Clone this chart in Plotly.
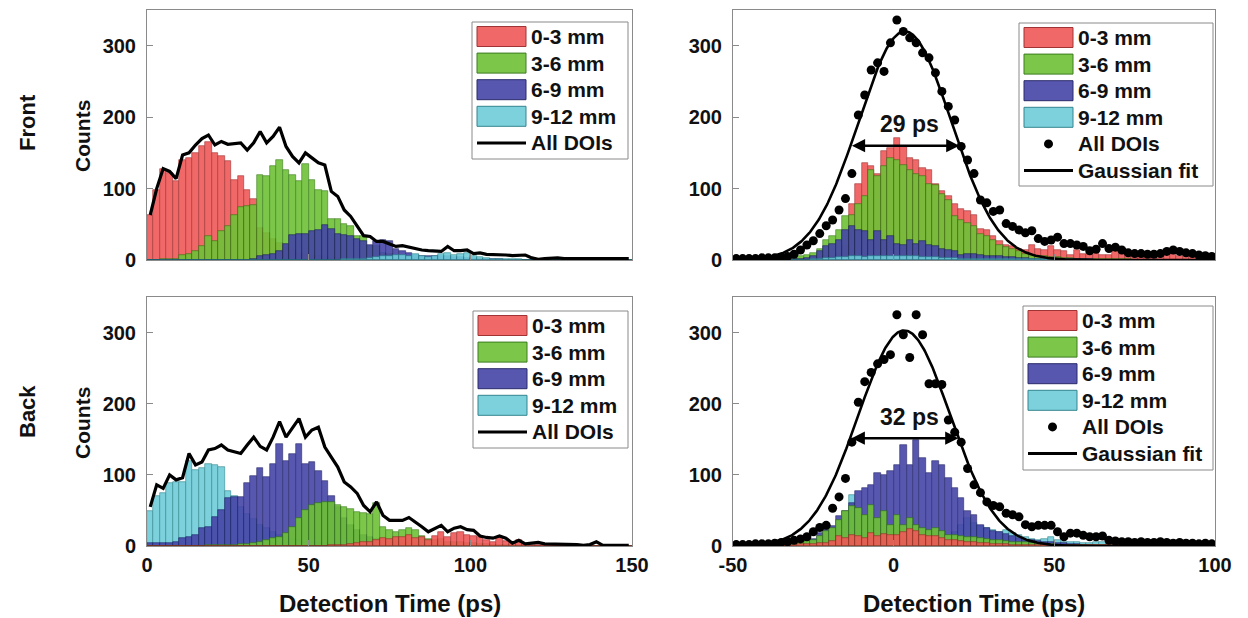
import numpy as np
import plotly.graph_objects as go

W, H = 1248, 618
FONT = "Liberation Sans, Arial, Helvetica, sans-serif"

# ---------------- data ----------------
BIN_WIDTH = 2
LEFT_CENTERS = np.arange(1, 150, BIN_WIDTH)     # 75 bins, 0..150 ps
RIGHT_CENTERS = np.arange(-49, 100, BIN_WIDTH)  # 75 bins, -50..100 ps

SERIES_NAMES = ["0-3 mm", "3-6 mm", "6-9 mm", "9-12 mm"]
ALL_NAME = "All DOIs"
FIT_NAME = "Gaussian fit"
ROW_NAMES = ["Front", "Back"]
X_TITLE = "Detection Time (ps)"
Y_TITLE = "Counts"
LEFT_XTICKS = [0, 50, 100, 150]
LEFT_XTICK_TEXT = ["0", "50", "100", "150"]
RIGHT_XTICKS = [-50, 0, 50, 100]
RIGHT_XTICK_TEXT = ["-50", "0", "50", "100"]
YTICKS = [0, 100, 200, 300]
FWHM_LABELS = ["29 ps", "32 ps"]

# Front, raw detection time
TL_RED = [63, 98, 127, 122, 110, 140, 143, 150, 160, 165,
          150, 145, 138, 112, 117, 98, 85, 45, 38, 30,
          24, 18, 14, 10, 8, 6, 5, 4, 3, 3,
          2, 2, 1, 1, 1, 1, 0, 0, 1, 0,
          0, 0, 0, 0, 0, 0, 0, 0, 0, 0,
          0, 0, 0, 0, 0, 0, 0, 0, 0, 0,
          0, 0, 0, 0, 0, 0, 0, 0, 0, 0,
          0, 0, 0, 0, 0]
TL_GREEN = [0, 0, 1, 1, 2, 7, 9, 12, 19, 33,
            26, 40, 47, 63, 74, 76, 77, 119, 117, 131,
            140, 126, 119, 110, 135, 112, 98, 96, 58, 58,
            51, 47, 33, 33, 20, 19, 10, 8, 6, 5,
            4, 3, 3, 2, 2, 2, 1, 1, 1, 1,
            1, 1, 0, 0, 0, 0, 0, 0, 0, 0,
            0, 0, 0, 0, 0, 0, 0, 0, 0, 0,
            0, 0, 0, 0, 0]
TL_BLUE = [0, 0, 0, 0, 0, 0, 0, 0, 0, 0,
           0, 0, 0, 0, 0, 0, 2, 6, 7, 9,
           13, 23, 35, 36, 37, 40, 42, 49, 44, 37,
           35, 33, 30, 26, 21, 27, 28, 27, 16, 12,
           10, 7, 6, 5, 6, 5, 5, 4, 4, 3,
           3, 2, 2, 1, 1, 0, 0, 0, 0, 0,
           0, 0, 0, 0, 0, 0, 0, 0, 0, 0,
           0, 0, 0, 0, 0]
TL_CYAN = [0, 0, 0, 0, 0, 0, 0, 0, 0, 0,
           0, 0, 0, 0, 0, 0, 0, 0, 0, 0,
           0, 0, 0, 0, 0, 0, 0, 0, 0, 0,
           1, 1, 2, 2, 3, 4, 5, 6, 7, 7,
           6, 8, 5, 4, 5, 8, 10, 7, 8, 10,
           6, 4, 3, 2, 2, 1, 1, 1, 0, 0,
           0, 0, 0, 0, 0, 0, 0, 0, 0, 0,
           0, 0, 0, 0, 0]
TL_ALL = [63, 100, 128, 124, 114, 147, 150, 161, 170, 175,
          161, 166, 162, 163, 164, 154, 164, 180, 164, 173,
          186, 159, 145, 136, 150, 143, 136, 133, 96, 89,
          70, 61, 47, 34, 33, 26, 26, 23, 19, 20,
          18, 15, 14, 13, 13, 12, 19, 13, 13, 14,
          9, 10, 8, 8, 7, 7, 6, 6, 7, 3,
          1, 2, 3, 3, 2, 2, 1, 1, 2, 1,
          1, 1, 2, 2, 2]

# Front, corrected time
TR_RED = [0, 0, 0, 0, 0, 0, 0, 1, 1, 1,
          2, 2, 3, 4, 5, 6, 8, 20, 79, 107,
          136, 131, 121, 152, 157, 171, 159, 143, 140, 129,
          126, 107, 96, 89, 79, 72, 68, 63, 44, 42,
          33, 27, 21, 19, 16, 14, 21, 16, 14, 19,
          14, 12, 7, 14, 9, 9, 12, 7, 7, 12,
          9, 7, 6, 7, 8, 8, 9, 7, 8, 6,
          5, 7, 5, 5, 6]
TR_GREEN = [0, 0, 0, 0, 0, 0, 0, 1, 2, 4,
            5, 7, 10, 15, 28, 33, 42, 61, 63, 79,
            89, 126, 117, 131, 143, 140, 133, 126, 121, 117,
            107, 105, 93, 84, 61, 56, 52, 47, 37, 33,
            28, 21, 18, 15, 12, 9, 7, 6, 5, 4,
            4, 3, 3, 2, 2, 2, 1, 1, 1, 1,
            1, 1, 0, 0, 0, 0, 0, 0, 0, 0,
            0, 0, 0, 0, 0]
TR_BLUE = [0, 0, 0, 0, 0, 0, 0, 1, 1, 2,
           2, 3, 5, 12, 19, 23, 28, 42, 47, 42,
           40, 28, 40, 28, 33, 23, 21, 28, 23, 26,
           21, 19, 16, 14, 12, 7, 8, 9, 7, 6,
           5, 6, 4, 4, 3, 3, 2, 2, 1, 1,
           1, 1, 1, 1, 1, 1, 0, 0, 0, 0,
           0, 0, 0, 0, 0, 0, 0, 0, 0, 0,
           0, 0, 0, 0, 0]
TR_CYAN = [0, 0, 0, 0, 0, 0, 0, 0, 0, 0,
           0, 0, 1, 2, 3, 3, 4, 4, 5, 5,
           4, 6, 5, 5, 6, 5, 6, 5, 5, 4,
           4, 4, 3, 3, 3, 2, 2, 2, 2, 2,
           1, 1, 1, 1, 1, 1, 1, 1, 1, 1,
           1, 1, 1, 0, 0, 0, 0, 0, 0, 0,
           0, 0, 0, 0, 0, 0, 0, 0, 0, 0,
           0, 0, 0, 0, 0]
TR_ALL = [2, 2, 2, 2, 3, 3, 3, 4, 5, 8,
          14, 21, 27, 37, 48, 56, 70, 86, 121, 203,
          231, 266, 276, 264, 304, 336, 320, 311, 304, 290,
          283, 262, 236, 215, 196, 159, 140, 121, 84, 80,
          68, 70, 51, 47, 42, 38, 41, 30, 26, 28,
          32, 23, 23, 21, 19, 13, 15, 23, 16, 18,
          14, 10, 9, 9, 8, 8, 9, 12, 14, 12,
          10, 9, 7, 6, 5]
FRONT_FIT = dict(amp=320, mu=3.5, sigma=14.4)

# Back, raw detection time
BL_RED = [0, 0, 0, 0, 0, 0, 0, 0, 0, 0,
          0, 0, 0, 0, 0, 0, 0, 0, 0, 0,
          0, 0, 0, 0, 0, 0, 0, 0, 1, 2,
          2, 3, 4, 5, 6, 8, 11, 10, 12, 13,
          15, 11, 12, 9, 14, 19, 12, 18, 20, 15,
          14, 12, 8, 6, 13, 7, 4, 9, 3, 2,
          2, 1, 1, 1, 1, 0, 0, 0, 0, 0,
          0, 0, 0, 0, 0]
BL_GREEN = [0, 0, 0, 0, 0, 0, 0, 0, 0, 1,
            1, 1, 2, 2, 3, 3, 4, 6, 8, 11,
            13, 18, 27, 39, 50, 57, 60, 62, 62, 58,
            55, 52, 48, 46, 45, 60, 27, 22, 20, 22,
            25, 22, 14, 10, 8, 10, 6, 6, 5, 4,
            4, 3, 3, 2, 2, 1, 1, 1, 1, 0,
            0, 0, 0, 0, 0, 0, 0, 0, 0, 0,
            0, 0, 0, 0, 0]
BL_BLUE = [4, 4, 4, 4, 6, 11, 12, 15, 25, 27,
           41, 50, 67, 69, 69, 88, 98, 109, 97, 115,
           144, 120, 130, 144, 115, 118, 105, 92, 70, 55,
           40, 30, 22, 16, 12, 10, 8, 6, 5, 4,
           3, 3, 2, 2, 1, 1, 1, 1, 0, 0,
           0, 0, 0, 0, 0, 0, 0, 0, 0, 0,
           0, 0, 0, 0, 0, 0, 0, 0, 0, 0,
           0, 0, 0, 0, 0]
BL_CYAN = [49, 70, 75, 88, 90, 90, 120, 107, 110, 115,
           114, 111, 77, 70, 55, 45, 38, 30, 25, 20,
           16, 13, 10, 8, 6, 5, 4, 3, 3, 2,
           2, 1, 1, 1, 1, 0, 0, 0, 0, 0,
           0, 0, 0, 0, 0, 0, 0, 0, 0, 0,
           0, 0, 0, 0, 0, 0, 0, 0, 0, 0,
           0, 0, 0, 0, 0, 0, 0, 0, 0, 0,
           0, 0, 0, 0, 0]
BL_ALL = [55, 86, 81, 100, 93, 96, 130, 114, 118, 135,
          137, 142, 135, 132, 130, 142, 153, 140, 135, 153,
          175, 153, 167, 179, 153, 163, 167, 139, 125, 111,
          90, 83, 74, 57, 48, 62, 43, 36, 36, 36,
          40, 34, 27, 20, 25, 29, 20, 25, 27, 23,
          22, 14, 12, 11, 14, 11, 4, 8, 3, 4,
          5, 3, 3, 2, 2, 2, 2, 1, 2, 6,
          1, 1, 1, 1, 1]

# Back, corrected time
BR_RED = [0, 0, 0, 0, 0, 0, 0, 1, 1, 2,
          3, 3, 3, 4, 4, 7, 14, 11, 16, 14,
          11, 18, 14, 17, 15, 16, 20, 24, 21, 16,
          14, 14, 11, 9, 9, 7, 6, 5, 4, 4,
          3, 3, 3, 2, 2, 2, 1, 1, 1, 1,
          1, 1, 1, 1, 1, 1, 1, 1, 1, 1,
          1, 1, 1, 1, 1, 0, 0, 0, 0, 0,
          0, 0, 0, 0, 0]
BR_GREEN = [0, 0, 0, 0, 0, 0, 1, 1, 2, 3,
            5, 7, 9, 14, 21, 25, 37, 49, 56, 53,
            44, 58, 39, 49, 30, 44, 30, 39, 30, 25,
            23, 25, 21, 16, 15, 14, 13, 12, 11, 10,
            9, 8, 7, 6, 5, 5, 4, 4, 3, 3,
            2, 2, 2, 1, 1, 1, 1, 1, 1, 1,
            1, 1, 1, 0, 0, 0, 0, 0, 0, 0,
            0, 0, 0, 0, 0]
BR_BLUE = [0, 0, 0, 0, 0, 0, 1, 1, 2, 3,
           4, 6, 10, 18, 25, 28, 42, 49, 60, 77,
           81, 86, 102, 100, 105, 114, 142, 114, 149, 123,
           102, 119, 114, 95, 81, 67, 49, 44, 30, 25,
           21, 19, 17, 14, 11, 9, 8, 7, 6, 5,
           4, 4, 3, 3, 2, 2, 2, 2, 2, 2,
           1, 1, 1, 1, 1, 1, 1, 1, 1, 1,
           1, 1, 1, 1, 1]
BR_CYAN = [0, 0, 0, 0, 0, 0, 0, 0, 0, 1,
           1, 1, 2, 4, 6, 8, 12, 20, 72, 18,
           15, 14, 14, 12, 12, 10, 10, 10, 9, 9,
           9, 8, 8, 10, 20, 30, 40, 33, 28, 25,
           22, 20, 22, 18, 15, 12, 10, 8, 10, 13,
           8, 6, 5, 5, 4, 4, 5, 6, 4, 3,
           3, 2, 2, 2, 2, 1, 1, 1, 1, 1,
           1, 1, 1, 1, 1]
BR_ALL = [2, 2, 2, 3, 3, 3, 4, 5, 6, 8,
          10, 13, 20, 26, 29, 53, 69, 95, 146, 202,
          231, 244, 256, 262, 269, 325, 297, 265, 325, 297,
          228, 228, 227, 177, 160, 146, 109, 86, 75, 62,
          57, 55, 46, 44, 41, 30, 27, 29, 29, 29,
          20, 13, 18, 18, 15, 13, 13, 14, 8, 7,
          6, 6, 5, 6, 5, 5, 6, 5, 4, 5,
          4, 4, 3, 4, 3]
BACK_FIT = dict(amp=303, mu=3.3, sigma=14.3)

# ---------------- styling ----------------
FILL = ["rgb(240,88,88)", "rgb(110,194,55)", "rgb(69,69,167)", "rgb(110,205,218)"]
EDGE = ["rgb(150,30,30)", "rgb(40,110,10)", "rgb(20,20,90)", "rgb(30,120,130)"]
OPACITY = 0.9
AXIS_GRAY = "#8a8a8a"
TXT = "#111111"

# panel boxes in pixels: (left, top, right, bottom)
PANELS = [
    dict(n=1, box=(147, 10, 632, 260), xr=[0, 150], xt=LEFT_XTICKS, xtt=LEFT_XTICK_TEXT,
         xlab=False, centers=LEFT_CENTERS, data=[TL_RED, TL_GREEN, TL_BLUE, TL_CYAN],
         order=[0, 1, 2, 3], total=TL_ALL, fit=None, legend=(472, 22, 628, 159)),
    dict(n=2, box=(733, 10, 1215, 260), xr=[-50, 100], xt=RIGHT_XTICKS, xtt=RIGHT_XTICK_TEXT,
         xlab=False, centers=RIGHT_CENTERS, data=[TR_RED, TR_GREEN, TR_BLUE, TR_CYAN],
         order=[0, 1, 2, 3], total=TR_ALL, fit=FRONT_FIT, fwhm=FWHM_LABELS[0],
         legend=(1019, 23, 1213, 186)),
    dict(n=3, box=(147, 297, 632, 546), xr=[0, 150], xt=LEFT_XTICKS, xtt=LEFT_XTICK_TEXT,
         xlab=True, centers=LEFT_CENTERS, data=[BL_RED, BL_GREEN, BL_BLUE, BL_CYAN],
         order=[3, 2, 1, 0], total=BL_ALL, fit=None, legend=(473, 311, 628, 448)),
    dict(n=4, box=(733, 297, 1215, 546), xr=[-50, 100], xt=RIGHT_XTICKS, xtt=RIGHT_XTICK_TEXT,
         xlab=True, centers=RIGHT_CENTERS, data=[BR_RED, BR_GREEN, BR_BLUE, BR_CYAN],
         order=[3, 2, 1, 0], total=BR_ALL, fit=BACK_FIT, fwhm=FWHM_LABELS[1],
         legend=(1023, 306, 1213, 470)),
]


def px(x):
    return x / W


def py(y):
    return 1 - y / H


def bold(size):
    return dict(family=FONT, size=size, color=TXT, weight="bold")


fig = go.Figure()
layout = dict(
    width=W, height=H, margin=dict(l=0, r=0, t=0, b=0),
    paper_bgcolor="white", plot_bgcolor="white",
    barmode="overlay", bargap=0, showlegend=False,
    font=dict(family=FONT, color=TXT),
)
annotations = []
shapes = []

for p in PANELS:
    n = p["n"]
    xs = "" if n == 1 else str(n)
    xa, ya = "x" + xs, "y" + xs
    l, t, r, b = p["box"]
    common = dict(showline=True, mirror=True, linecolor=AXIS_GRAY, linewidth=1,
                  ticks="inside", ticklen=6, tickcolor=AXIS_GRAY, showgrid=False,
                  zeroline=False, automargin=False, tickfont=bold(20))
    layout["xaxis" + xs] = dict(common, domain=[px(l), px(r)], anchor=ya, range=p["xr"],
                                tickvals=p["xt"], ticktext=p["xtt"],
                                showticklabels=p["xlab"], ticklabelstandoff=1)
    layout["yaxis" + xs] = dict(common, domain=[py(b), py(t)], anchor=xa, range=[0, 350],
                                tickvals=YTICKS, ticklabelstandoff=6)

    for i in p["order"]:
        fig.add_trace(go.Bar(
            x=p["centers"], y=p["data"][i], width=BIN_WIDTH, name=SERIES_NAMES[i],
            marker=dict(color=FILL[i], line=dict(color=EDGE[i], width=0.6)),
            opacity=OPACITY, xaxis=xa, yaxis=ya, hoverinfo="skip"))

    if p["fit"] is None:
        fig.add_trace(go.Scatter(x=p["centers"], y=p["total"], mode="lines", name=ALL_NAME,
                                 line=dict(color="black", width=3.2), xaxis=xa, yaxis=ya))
    else:
        f = p["fit"]
        fig.add_trace(go.Scatter(x=p["centers"], y=p["total"], mode="markers", name=ALL_NAME,
                                 marker=dict(color="black", size=9), xaxis=xa, yaxis=ya))
        gx = np.linspace(p["xr"][0], p["xr"][1], 601)
        gy = f["amp"] * np.exp(-(gx - f["mu"]) ** 2 / (2 * f["sigma"] ** 2))
        fig.add_trace(go.Scatter(x=gx, y=gy, mode="lines", name=FIT_NAME,
                                 line=dict(color="black", width=2.6), xaxis=xa, yaxis=ya))
        hw = f["sigma"] * np.sqrt(2 * np.log(2))
        half = f["amp"] / 2
        annotations.append(dict(x=f["mu"] + hw, y=half, ax=f["mu"] - hw, ay=half,
                                xref=xa, yref=ya, axref=xa, ayref=ya, text="",
                                showarrow=True, arrowhead=2, startarrowhead=2,
                                arrowside="end+start", arrowsize=1.1, arrowwidth=2.4,
                                arrowcolor="black", standoff=0, startstandoff=0))
        annotations.append(dict(x=f["mu"] + 1.5, y=half + 30, xref=xa, yref=ya,
                                xanchor="center", yanchor="middle",
                                text=p["fwhm"], showarrow=False, font=bold(23)))

    # manual legend
    lx0, ly0, lx1, ly1 = p["legend"]
    shapes.append(dict(type="rect", xref="paper", yref="paper", x0=px(lx0), x1=px(lx1),
                       y0=py(ly1), y1=py(ly0), line=dict(color=AXIS_GRAY, width=1),
                       fillcolor="white", layer="above"))
    entries = SERIES_NAMES + [ALL_NAME] + ([FIT_NAME] if p["fit"] is not None else [])
    for k, name in enumerate(entries):
        cy = ly0 + 14.5 + 26.6 * k
        sx0, sx1 = lx0 + 5, lx0 + 54
        if k < 4:
            shapes.append(dict(type="rect", xref="paper", yref="paper", x0=px(sx0), x1=px(sx1),
                               y0=py(cy + 10), y1=py(cy - 10), fillcolor=FILL[k],
                               line=dict(color=EDGE[k], width=1), opacity=OPACITY, layer="above"))
        elif name == ALL_NAME and p["fit"] is not None:
            cx = (sx0 + sx1) / 2
            shapes.append(dict(type="circle", xref="paper", yref="paper",
                               x0=px(cx - 4.5), x1=px(cx + 4.5), y0=py(cy + 4.5), y1=py(cy - 4.5),
                               fillcolor="black", line=dict(color="black", width=0), layer="above"))
        else:
            shapes.append(dict(type="line", xref="paper", yref="paper", x0=px(sx0), x1=px(sx1),
                               y0=py(cy), y1=py(cy), line=dict(color="black", width=3),
                               layer="above"))
        annotations.append(dict(x=px(sx1 + 3), y=py(cy), xref="paper", yref="paper",
                                xanchor="left", yanchor="middle", text=name, showarrow=False,
                                font=bold(21)))

# axis / row titles
for cy, row in zip([123, 412], ROW_NAMES):
    annotations.append(dict(x=px(27), y=py(cy), xref="paper", yref="paper", text=row,
                            textangle=-90, showarrow=False, xanchor="center", yanchor="middle",
                            font=bold(22)))
for cy in [136, 423]:
    annotations.append(dict(x=px(82), y=py(cy), xref="paper", yref="paper", text=Y_TITLE,
                            textangle=-90, showarrow=False, xanchor="center", yanchor="middle",
                            font=bold(21)))
for cx in [389.5, 974]:
    annotations.append(dict(x=px(cx), y=py(603), xref="paper", yref="paper", text=X_TITLE,
                            showarrow=False, xanchor="center", yanchor="middle",
                            font=bold(24)))

layout["annotations"] = annotations
layout["shapes"] = shapes
fig.update_layout(**layout)
fig.write_html("out.html", config={"displayModeBar": False},
               post_script="document.body.style.margin='0px';document.body.style.padding='0px';")
